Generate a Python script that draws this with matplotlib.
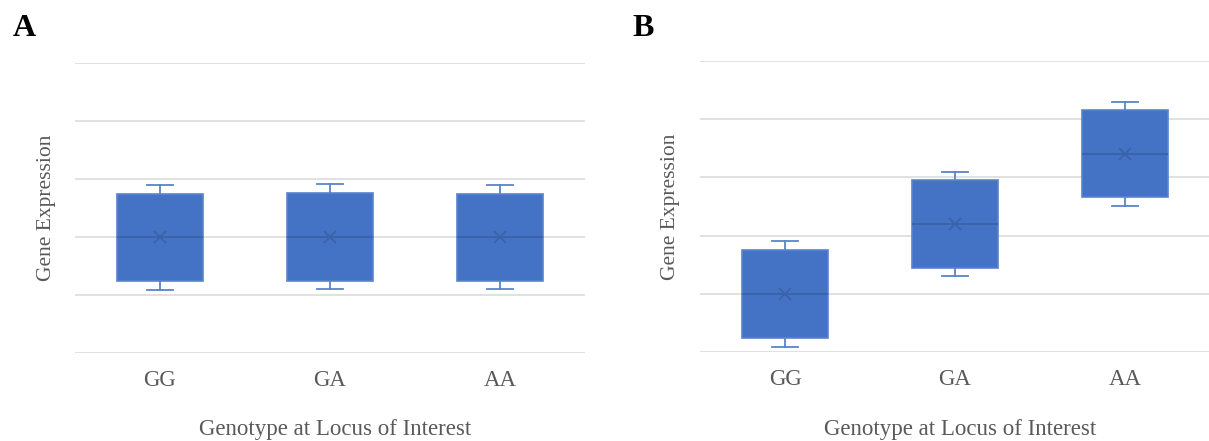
import matplotlib
matplotlib.use("Agg")
import matplotlib.pyplot as plt

categories = ["GG", "GA", "AA"]

# Panel A stats
a_whislo = [1.09, 1.10, 1.10]
a_q1 = [1.24, 1.24, 1.24]
a_med = [2.0, 2.0, 2.0]
a_q3 = [2.74, 2.76, 2.74]
a_whishi = [2.90, 2.91, 2.90]
a_mean = [2.0, 2.0, 2.0]

# Panel B stats
b_whislo = [0.09, 1.31, 2.51]
b_q1 = [0.24, 1.44, 2.66]
b_med = [1.0, 2.2, 3.40]
b_q3 = [1.75, 2.96, 4.16]
b_whishi = [1.91, 3.09, 4.30]
b_mean = [1.0, 2.2, 3.40]

plt.rcParams['font.family'] = ['Liberation Serif', 'DejaVu Serif']

fig = plt.figure(figsize=(12.09, 4.41), dpi=100)

W, H = 1209, 441
def rect(x0, x1, ytop, ybot):
    return [x0 / W, 1 - ybot / H, (x1 - x0) / W, (ybot - ytop) / H]

axA = fig.add_axes(rect(75, 585, 63, 353))
axB = fig.add_axes(rect(700, 1210, 61, 352))

face = "#4472C4"
edge = "#5A83CC"
medc = "#3A62A8"
textc = "#595959"

def draw(ax, lo, q1, med, q3, hi, mean, ylab_x, xlab_y):
    stats = []
    for i in range(len(categories)):
        stats.append(dict(whislo=lo[i], q1=q1[i], med=med[i], q3=q3[i],
                          whishi=hi[i], mean=mean[i], fliers=[], label=categories[i]))
    ax.bxp(stats, positions=range(len(categories)), widths=0.51, patch_artist=True,
           showmeans=True, showfliers=False,
           boxprops=dict(facecolor=face, edgecolor=edge, linewidth=1.2),
           medianprops=dict(color=medc, linewidth=1.3),
           whiskerprops=dict(color=edge, linewidth=1.3),
           capprops=dict(color=edge, linewidth=1.3),
           capwidths=0.15,
           meanprops=dict(marker="x", markeredgecolor=medc, markersize=9, markeredgewidth=1.2))
    ax.set_xlim(-0.5, 2.5)
    ax.set_ylim(0, 5)
    ax.set_yticks([0, 1, 2, 3, 4, 5])
    ax.set_yticklabels([])
    ax.tick_params(axis="y", length=0)
    ax.tick_params(axis="x", length=0, pad=12, labelsize=16.5, labelcolor=textc)
    ax.grid(axis="y", color="#D9D9D9", linewidth=1.1)
    ax.set_axisbelow(True)
    for s in ax.spines.values():
        s.set_visible(False)
    ax.set_xticks(range(len(categories)))
    ax.set_xticklabels(categories)
    ax.set_xlabel("Genotype at Locus of Interest", fontsize=16.5, color=textc, va="center")
    ax.xaxis.set_label_coords(0.51, xlab_y)
    ax.set_ylabel("Gene Expression", fontsize=15.5, color=textc, va="center")
    ax.yaxis.set_label_coords(ylab_x, 0.5)

draw(axA, a_whislo, a_q1, a_med, a_q3, a_whishi, a_mean, (47 - 75) / 510, (353 - 430) / 290)
draw(axB, b_whislo, b_q1, b_med, b_q3, b_whishi, b_mean, (670 - 700) / 510, (352 - 430) / 291)

fig.text(24 / W, 1 - 28 / H, "A", fontsize=23, fontweight="bold", ha="center", va="center")
fig.text(643 / W, 1 - 28 / H, "B", fontsize=23, fontweight="bold", ha="center", va="center")

fig.savefig("out.png", dpi=100)
